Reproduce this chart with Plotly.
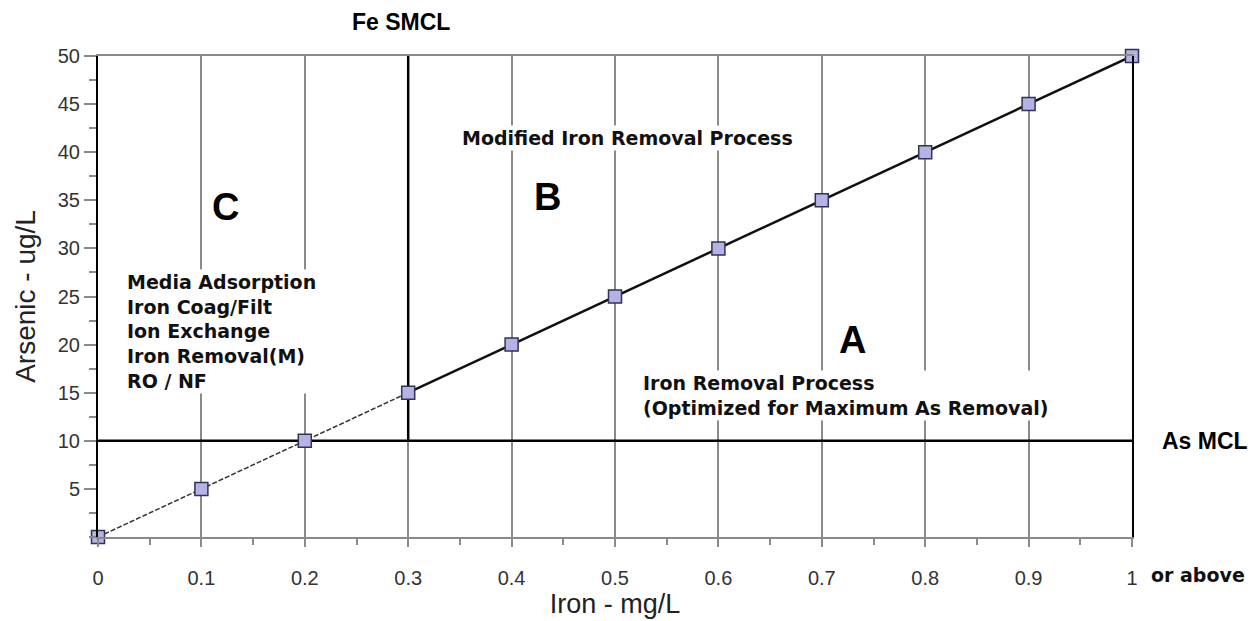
import plotly.graph_objects as go

# ---- data ----
iron = [0, 0.1, 0.2, 0.3, 0.4, 0.5, 0.6, 0.7, 0.8, 0.9, 1.0]
arsenic = [0, 5, 10, 15, 20, 25, 30, 35, 40, 45, 50]
fe_smcl = 0.3
as_mcl = 10
x_tickvals = [0, 0.1, 0.2, 0.3, 0.4, 0.5, 0.6, 0.7, 0.8, 0.9, 1.0]
x_ticktext = ["0", "0.1", "0.2", "0.3", "0.4", "0.5", "0.6", "0.7", "0.8", "0.9", "1"]
y_tickvals = [5, 10, 15, 20, 25, 30, 35, 40, 45, 50]
media_lines = ["Media Adsorption", "Iron Coag/Filt", "Ion Exchange", "Iron Removal(M)", "RO / NF"]

split = iron.index(fe_smcl)

fig = go.Figure()

# As MCL horizontal line
fig.add_trace(go.Scatter(x=[iron[0], iron[-1]], y=[as_mcl, as_mcl], mode="lines",
                         line=dict(color="black", width=2.5), hoverinfo="skip", showlegend=False))
# Fe SMCL vertical line
fig.add_trace(go.Scatter(x=[fe_smcl, fe_smcl], y=[as_mcl, arsenic[-1]], mode="lines",
                         line=dict(color="black", width=2.5), hoverinfo="skip", showlegend=False))
# dashed part
fig.add_trace(go.Scatter(x=iron[:split + 1], y=arsenic[:split + 1], mode="lines",
                         line=dict(color="#333333", width=1.5, dash="5px,2px"),
                         showlegend=False))
# solid part
fig.add_trace(go.Scatter(x=iron[split:], y=arsenic[split:], mode="lines",
                         line=dict(color="#111111", width=2.5), showlegend=False))
# markers
fig.add_trace(go.Scatter(x=iron, y=arsenic, mode="markers",
                         marker=dict(symbol="square", size=13, color="#b3b3e6",
                                     line=dict(color="#333355", width=1.5)),
                         cliponaxis=False, showlegend=False))

bold = dict(family="DejaVu Sans", size=19, color="#111111")
big = dict(family="Liberation Sans, Arial", size=38, color="#000000")

annotations = [
    dict(x=0.123, y=34.3, text="<b>C</b>", font=big, xanchor="center"),
    dict(x=0.435, y=35.3, text="<b>B</b>", font=big, xanchor="center"),
    dict(x=0.730, y=20.5, text="<b>A</b>", font=big, xanchor="center"),
    dict(x=0.350, y=41.5, text="<b>Modified Iron Removal Process</b>", font=bold,
         xanchor="left", bgcolor="white"),
    dict(x=0.026, y=21.4, text="<b>" + "<br>".join(media_lines) + "</b>", font=bold,
         xanchor="left", align="left", bgcolor="white"),
    dict(x=0.525, y=14.7, text="<b>Iron Removal Process<br>(Optimized for Maximum As Removal)</b>",
         font=bold, xanchor="left", align="left", bgcolor="white"),
    dict(x=0.293, xref="paper", y=1.071, yref="paper", text="<b>Fe SMCL</b>",
         xanchor="center",
         font=dict(family="Liberation Sans, Arial", size=23, color="black")),
    dict(x=1.027, xref="paper", y=as_mcl, text="<b>As MCL</b>", xanchor="left",
         font=dict(family="Liberation Sans, Arial", size=23, color="black")),
    dict(x=1.016, xref="paper", y=-0.079, yref="paper", text="<b>or above</b>", xanchor="left",
         font=dict(family="DejaVu Sans", size=19, color="#111111")),
]
for a in annotations:
    a.setdefault("xref", "x")
    a.setdefault("yref", "y")
    a["showarrow"] = False
    a.setdefault("yanchor", "middle")

fig.update_layout(
    width=1249, height=613,
    margin=dict(l=90, r=125, t=48, b=84),
    paper_bgcolor="white", plot_bgcolor="white",
    annotations=annotations,
    xaxis=dict(
        range=[0, 1], tickvals=x_tickvals, ticktext=x_ticktext,
        showgrid=True, gridcolor="#8a8a8a", gridwidth=1.5,
        zeroline=False, showline=True, linecolor="#8a8a8a", linewidth=2, mirror=False,
        ticks="outside", ticklen=8, tickcolor="#8a8a8a", tickwidth=1.5,
        minor=dict(dtick=0.05, ticks="outside", ticklen=6, tickcolor="#8a8a8a", showgrid=False),
        tickfont=dict(family="Liberation Sans, Arial", size=20, color="#333333"),
        ticklabelstandoff=14,
        title=dict(text="Iron - mg/L", standoff=0,
                   font=dict(family="Liberation Sans, Arial", size=27, color="#222222")),
    ),
    xaxis2=dict(overlaying="x", side="top", range=[0, 1], showline=True,
                linecolor="#8a8a8a", linewidth=2, showticklabels=False, ticks="",
                showgrid=False, zeroline=False),
    yaxis=dict(
        range=[0, 50], tickvals=y_tickvals,
        showgrid=False, zeroline=False, showline=True, linecolor="black", linewidth=2,
        ticks="outside", ticklen=12, tickcolor="#8a8a8a", tickwidth=1.5,
        minor=dict(dtick=2.5, ticks="outside", ticklen=7, tickcolor="#8a8a8a", showgrid=False),
        tickfont=dict(family="Liberation Sans, Arial", size=20, color="#333333"),
        title=dict(text="Arsenic - ug/L", standoff=14,
                   font=dict(family="Liberation Sans, Arial", size=28, color="#222222")),
    ),
    yaxis2=dict(overlaying="y", side="right", range=[0, 50], showline=True,
                linecolor="black", linewidth=2, showticklabels=False, ticks="",
                showgrid=False, zeroline=False),
)

# invisible trace to activate the mirror axes (top gray border, right black border)
fig.add_trace(go.Scatter(x=[iron[0]], y=[arsenic[0]], xaxis="x2", yaxis="y2",
                         mode="markers", marker=dict(opacity=0), hoverinfo="skip",
                         showlegend=False))

fig.write_html("out.html")
